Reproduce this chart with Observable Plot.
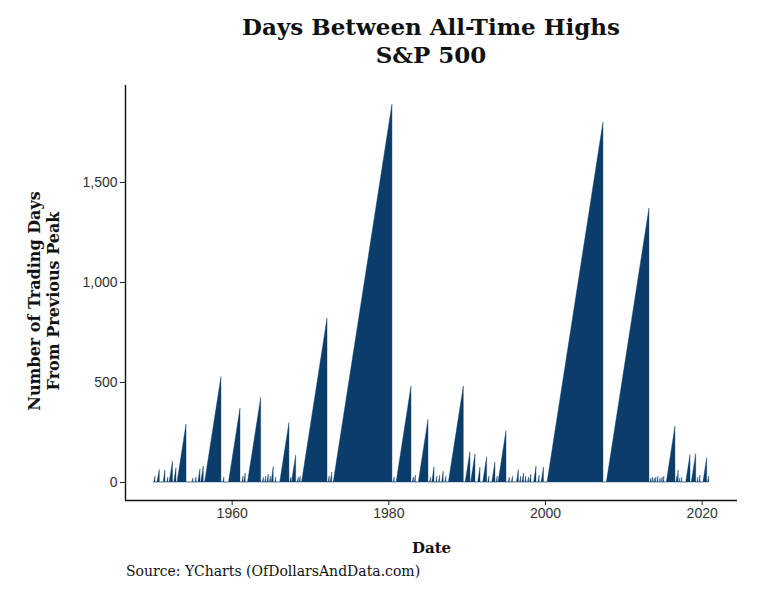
<!DOCTYPE html>
<html>
<head>
<meta charset="utf-8">
<script src="https://cdn.jsdelivr.net/npm/d3@7"></script>
<script src="https://cdn.jsdelivr.net/npm/@observablehq/plot@0.6"></script>
<style>
  html, body { margin: 0; padding: 0; background: #fff; }
  #wrap { width: 762px; height: 591px; position: relative; overflow: hidden; }
  #title { height: 75px; box-sizing: border-box; padding-top: 13px; padding-left: 100px;
           text-align: center; font-family: "DejaVu Serif", serif; font-weight: bold;
           font-size: 23px; line-height: 28px; color: #111; }
  #caption { height: 30px; box-sizing: border-box; padding-left: 126px; padding-top: 2px;
             font-family: "DejaVu Serif", serif; font-size: 14px; color: #111; }
  #chart svg { display: block; }
</style>
</head>
<body>
<div id="wrap">
  <div id="title">Days Between All-Time Highs<br>S&amp;P 500</div>
  <div id="chart"></div>
  <div id="caption">Source: YCharts (OfDollarsAndData.com)</div>
</div>
<script>
// Each drawdown episode: date of previous peak (start), date of new all-time high (end),
// and trading days elapsed at the new high (peak).
const starts = [1950.05, 1950.45, 1951.25, 1951.70, 1952.02, 1952.60, 1953.02, 1954.90, 1955.30, 1955.68,
  1956.05, 1956.54, 1958.85, 1959.59, 1961.30, 1961.55, 1962.02, 1963.90, 1964.20, 1964.50,
  1964.80, 1965.05, 1965.50, 1966.13, 1967.40, 1967.63, 1968.35, 1968.60, 1968.92, 1972.30,
  1972.57, 1972.96, 1980.60, 1980.99, 1983.05, 1983.30, 1983.82, 1985.25, 1985.55, 1986.05,
  1986.40, 1986.80, 1987.20, 1987.66, 1989.80, 1990.50, 1991.40, 1992.05, 1992.70, 1993.20,
  1993.75, 1994.00, 1995.30, 1995.70, 1996.35, 1996.75, 1997.05, 1997.40, 1997.75, 1998.00,
  1998.55, 1999.10, 1999.50, 2000.26, 2007.83, 2013.40, 2013.60, 2013.85, 2014.05, 2014.30,
  2014.60, 2014.85, 2015.05, 2015.48, 2016.70, 2016.85, 2017.10, 2017.35, 2017.96, 2018.67,
  2019.40, 2019.65, 2020.16, 2020.75];
const ends = [1950.20, 1950.76, 1951.48, 1951.85, 1952.44, 1952.89, 1954.17, 1955.05, 1955.45, 1955.95,
  1956.37, 1958.63, 1959.00, 1961.06, 1961.45, 1961.72, 1963.70, 1964.05, 1964.35, 1964.67,
  1964.95, 1965.30, 1965.62, 1967.31, 1967.55, 1968.17, 1968.50, 1968.75, 1972.17, 1972.45,
  1972.77, 1980.46, 1980.75, 1982.89, 1983.20, 1983.45, 1985.06, 1985.40, 1985.83, 1986.20,
  1986.55, 1987.00, 1987.35, 1989.57, 1990.42, 1991.06, 1991.70, 1992.55, 1992.85, 1993.61,
  1993.90, 1995.02, 1995.45, 1995.85, 1996.60, 1996.90, 1997.25, 1997.55, 1997.90, 1998.20,
  1998.85, 1999.25, 1999.80, 2007.40, 2013.27, 2013.50, 2013.72, 2013.95, 2014.15, 2014.42,
  2014.70, 2014.95, 2015.17, 2016.59, 2016.83, 2017.00, 2017.20, 2017.45, 2018.51, 2019.24,
  2019.50, 2019.78, 2020.64, 2020.90];
const peaks = [30, 63, 60, 25, 105, 72, 290, 20, 25, 65,
  80, 527, 25, 370, 30, 45, 423, 25, 30, 40,
  30, 77, 25, 298, 25, 135, 25, 30, 820, 30,
  50, 1890, 25, 480, 25, 35, 313, 25, 77, 30,
  35, 55, 30, 480, 152, 140, 75, 127, 30, 100,
  30, 257, 25, 30, 63, 30, 45, 30, 25, 40,
  80, 35, 75, 1800, 1370, 20, 25, 20, 25, 30,
  20, 25, 30, 280, 30, 60, 20, 25, 138, 143,
  25, 35, 122, 30];
const seriesStart = 1950.0;
const seriesEnd = 2020.9;
const xTicks = [1960, 1980, 2000, 2020];
const yTicks = [0, 500, 1000, 1500];

const pts = [{date: seriesStart, days: 0}];
for (let i = 0; i < starts.length; i++) {
  pts.push({date: starts[i], days: 0});
  pts.push({date: ends[i], days: peaks[i]});
  pts.push({date: ends[i], days: 0});
}
pts.push({date: seriesEnd, days: 0});

const xDomain = [1946.38, 2024.51];
const yDomain = [-90, 1985];
const tickFont = "Liberation Sans, Arial, sans-serif";

const chart = Plot.plot({
  width: 762,
  height: 486,
  marginTop: 10,
  marginBottom: 61,
  marginLeft: 125,
  marginRight: 25,
  style: {fontFamily: tickFont, background: "#fff"},
  x: {type: "linear", domain: xDomain},
  y: {type: "linear", domain: yDomain},
  marks: [
    Plot.areaY(pts, {x: "date", y1: 0, y2: "days", fill: "#0b3d6b", stroke: "#0b3d6b", strokeWidth: 0.4, curve: "linear"}),
    Plot.ruleY([yDomain[0]], {stroke: "#111", strokeWidth: 1.4}),
    Plot.ruleX([xDomain[0]], {stroke: "#111", strokeWidth: 1.4}),
    Plot.axisX({ticks: xTicks, tickFormat: d => String(d), tickSize: 5, tickPadding: 3,
      fontSize: 14, fill: "#333", stroke: "#222", label: null}),
    Plot.axisY({ticks: yTicks, tickFormat: d3.format(","), tickSize: 5, tickPadding: 3,
      fontSize: 14, fill: "#333", stroke: "#222", label: null}),
    Plot.text(["Date"], {frameAnchor: "bottom", dy: 48, lineAnchor: "middle",
      fontFamily: "DejaVu Serif, serif", fontWeight: "bold", fontSize: 15, fill: "#111"}),
    Plot.text(["Number of Trading Days\nFrom Previous Peak"], {frameAnchor: "left", rotate: -90,
      dx: -82, dy: 8, lineHeight: 1.2, lineAnchor: "middle", textAnchor: "middle",
      fontFamily: "DejaVu Serif, serif", fontWeight: "bold", fontSize: 16, fill: "#111"})
  ]
});
document.getElementById("chart").appendChild(chart);
</script>
</body>
</html>
